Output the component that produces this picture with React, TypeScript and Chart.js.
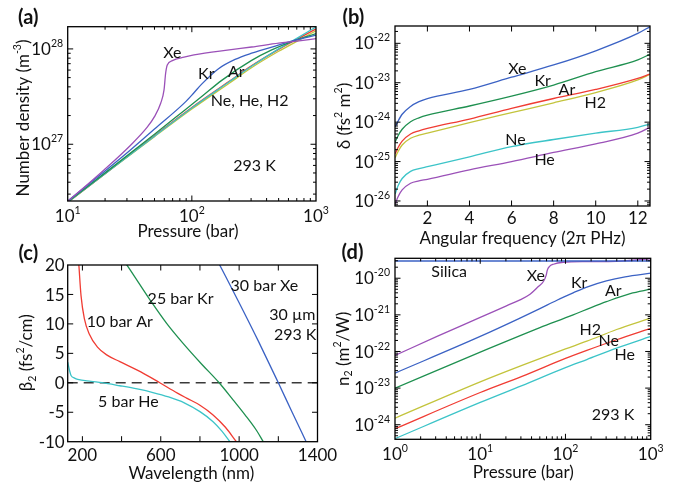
import React, { useEffect, useRef } from 'react';
import { Chart, registerables } from 'chart.js';

Chart.register(...registerables);

// ---------------- Colours ----------------
const PURPLE = '#9b51b8';
const BLUE = '#3b62c4';
const GREEN = '#1f9050';
const RED = '#f03c33';
const YELLOW = '#c3c43c';
const CYAN = '#3cc4c8';

// ---------------- Panel (a): number density vs pressure ----------------
const aXePressure = [10, 19.6, 32.1, 43.7, 50, 56.1, 59.7, 61.5, 63.4, 69.7, 86.5, 104, 200, 303, 500, 678, 1000];
const aXeDensity = [2.51e26, 5.37e26, 9.77e26, 1.51e27, 1.95e27, 2.69e27, 3.72e27, 5.56e27, 6.79e27, 7.53e27, 8.18e27, 8.65e27, 9.77e27, 1.047e28, 1.148e28, 1.2e28, 1.28e28];
const aKrPressure = [10, 20, 32, 50, 88, 104, 120, 163, 223, 303, 497, 678, 1000];
const aKrDensity = [2.54e26, 5.25e26, 8.71e26, 1.445e27, 2.75e27, 3.47e27, 4.27e27, 6.17e27, 7.76e27, 9.02e27, 1.096e28, 1.233e28, 1.393e28];
const aArPressure = [10, 20, 50, 88, 120, 174, 303, 440, 678, 1000];
const aArDensity = [2.49e26, 5.01e26, 1.274e27, 2.29e27, 3.16e27, 4.68e27, 7.59e27, 9.77e27, 1.23e28, 1.445e28];
const aLightPressure = [10, 20, 50, 100, 200, 300, 500, 700, 1000];
const aHeDensity = [2.46e26, 4.9e26, 1.216e27, 2.4e27, 4.52e27, 6.53e27, 1.0e28, 1.29e28, 1.7e28];
const aNeDensity = [2.47e26, 4.92e26, 1.23e27, 2.43e27, 4.57e27, 6.61e27, 9.89e27, 1.26e28, 1.62e28];
const aH2Density = [2.45e26, 4.9e26, 1.2e27, 2.34e27, 4.37e27, 6.31e27, 9.44e27, 1.2e28, 1.55e28];
const aXTicks = [10, 100, 1000];
const aXTickLabels = ['10¹', '10²', '10³'];
const aYTicks = [1e27, 1e28];
const aYTickLabels = ['10²⁷', '10²⁸'];

// ---------------- Panel (b): delta vs angular frequency ----------------
const bFreq = [0.47, 0.6, 0.8, 1.2, 1.6, 2, 4, 6, 8, 10, 12, 12.57];
const bXe = [7.59e-25, 1.047e-24, 1.585e-24, 2.51e-24, 3.31e-24, 3.98e-24, 6.76e-24, 1.38e-23, 2.82e-23, 6.46e-23, 1.78e-22, 2.63e-22];
const bKr = [3.16e-25, 4.47e-25, 6.61e-25, 1.023e-24, 1.29e-24, 1.51e-24, 2.57e-24, 4.57e-24, 8.71e-24, 1.905e-23, 3.8e-23, 5.25e-23];
const bAr = [1.585e-25, 2.24e-25, 3.31e-25, 5.01e-25, 6.03e-25, 6.92e-25, 1.2e-24, 2.24e-24, 3.98e-24, 6.76e-24, 1.29e-23, 1.66e-23];
const bH2 = [1.26e-25, 1.78e-25, 2.63e-25, 3.89e-25, 4.68e-25, 5.25e-25, 9.77e-25, 1.74e-24, 3.09e-24, 5.62e-24, 1.175e-23, 1.62e-23];
const bNe = [1.51e-26, 2.4e-26, 3.72e-26, 5.62e-26, 6.61e-26, 7.41e-26, 1.32e-25, 2.4e-25, 3.63e-25, 5.25e-25, 7.41e-25, 8.91e-25];
const bHe = [8.32e-27, 1.26e-26, 1.905e-26, 2.82e-26, 3.24e-26, 3.55e-26, 6.17e-26, 1.0e-25, 1.7e-25, 2.82e-25, 5.25e-25, 7.41e-25];
const bXTicks = [2, 4, 6, 8, 10, 12];
const bXTickLabels = ['2', '4', '6', '8', '10', '12'];
const bYTicks = [1e-26, 1e-25, 1e-24, 1e-23, 1e-22];
const bYTickLabels = ['10⁻²⁶', '10⁻²⁵', '10⁻²⁴', '10⁻²³', '10⁻²²'];

// ---------------- Panel (c): beta2 vs wavelength ----------------
const cArWl = [182, 193, 210, 235, 277, 328, 391, 498, 595, 685, 732, 800, 867, 930, 986];
const cArB2 = [20, 14.8, 10.9, 8.3, 6.06, 4.65, 3.6, 1.85, 0, -1.75, -2.6, -3.8, -5.45, -7.55, -10];
const cKrWl = [415, 485, 553, 630, 714, 808, 898, 969, 1029, 1089, 1123];
const cKrB2 = [20.6, 17.1, 13.7, 10.1, 6.7, 3.2, 0, -2.9, -5.4, -8.1, -10];
const cXeWl = [893, 1000, 1100, 1200, 1270, 1342];
const cXeB2 = [20.5, 13.6, 6.95, 0, -4.95, -10];
const cHeWl = [125, 135, 142, 160, 176, 244, 300, 391, 480, 560, 640, 720, 800, 867, 912, 953];
const cHeB2 = [3.5, 2.0, 1.25, 0.8, 0.57, 0.24, 0.02, -0.5, -1.05, -1.65, -2.4, -3.4, -4.9, -6.6, -8.2, -10];
const cZeroWl = [125, 1400];
const cZeroB2 = [0, 0];
const cXTicks = [200, 400, 600, 800, 1000, 1200, 1400];
const cXTickLabels = ['200', '', '600', '', '1000', '', '1400'];
const cYTicks = [-10, -5, 0, 5, 10, 15, 20];
const cYTickLabels = ['-10', '-5', '0', '5', '10', '15', '20'];

// ---------------- Panel (d): n2 vs pressure ----------------
const dXeP = [1, 3.16, 10, 20, 29.3, 38.4, 48.1, 55.1, 59.2, 61.4, 64.7, 72.1, 94.4, 177, 398, 562, 1000];
const dXeN2 = [7.76e-23, 2.63e-22, 8.51e-22, 1.74e-21, 2.57e-21, 3.66e-21, 5.93e-21, 8.13e-21, 1.18e-20, 1.69e-20, 2.08e-20, 2.41e-20, 2.73e-20, 2.84e-20, 2.9e-20, 3.05e-20, 3.4e-20];
const dSilicaP = [1, 1000];
const dSilicaN2 = [2.95e-20, 2.95e-20];
const dKrP = [1, 10, 29.3, 50.1, 79.4, 123, 178, 302, 501, 1000];
const dKrN2 = [2.57e-23, 2.57e-22, 8.13e-22, 1.48e-21, 2.51e-21, 3.98e-21, 5.75e-21, 8.51e-21, 1.096e-20, 1.37e-20];
const dArP = [1, 10, 30.9, 50.1, 123, 200, 302, 575, 1000];
const dArN2 = [1.0e-23, 9.55e-23, 2.85e-22, 4.47e-22, 1.0e-21, 1.585e-21, 2.29e-21, 3.8e-21, 5.01e-21];
const dLightP = [1, 10, 30.9, 100, 178, 398, 1000];
const dH2N2 = [1.51e-24, 1.48e-23, 4.17e-23, 1.17e-22, 1.905e-22, 3.98e-22, 8.13e-22];
const dNeN2 = [7.76e-25, 7.59e-24, 2.09e-23, 6.46e-23, 1.07e-22, 2.09e-22, 4.27e-22];
const dHeN2 = [4.17e-25, 4.07e-24, 1.175e-23, 3.63e-23, 6.03e-23, 1.23e-22, 2.57e-22];
const dXTicks = [1, 10, 100, 1000];
const dXTickLabels = ['10⁰', '10¹', '10²', '10³'];
const dYTicks = [1e-24, 1e-23, 1e-22, 1e-21, 1e-20];
const dYTickLabels = ['10⁻²⁴', '10⁻²³', '10⁻²²', '10⁻²¹', '10⁻²⁰'];

// ---------------- Text drawing helpers ----------------
const FONT_FAMILY = 'Lato, "Open Sans", "DejaVu Sans", sans-serif';
const SUP = '⁰¹²³⁴⁵⁶⁷⁸⁹⁻';
const SUB = '₀₁₂₃₄₅₆₇₈₉';
const PLAIN = '0123456789-';

function splitRich(text: string) {
  const segs: { kind: number; text: string }[] = [];
  for (const ch of Array.from(text)) {
    let kind = 0;
    let c = ch;
    const si = SUP.indexOf(ch);
    const bi = SUB.indexOf(ch);
    if (si >= 0) { kind = 1; c = PLAIN[si]; }
    else if (bi >= 0) { kind = -1; c = PLAIN[bi]; }
    const last = segs[segs.length - 1];
    if (last && last.kind === kind) last.text += c;
    else segs.push({ kind, text: c });
  }
  return segs;
}

function drawRich(ctx: CanvasRenderingContext2D, text: string, x: number, y: number, size: number,
  align: 'left' | 'center' | 'right', rotate = 0, bold = false) {
  const segs = splitRich(text);
  const small = size * 0.62;
  const w = bold ? 'bold ' : '';
  const widths = segs.map((s) => {
    ctx.font = `${w}${s.kind ? small : size}px ${FONT_FAMILY}`;
    return ctx.measureText(s.text).width;
  });
  const total = widths.reduce((p, q) => p + q, 0);
  ctx.save();
  ctx.translate(x, y);
  if (rotate) ctx.rotate(rotate);
  ctx.textAlign = 'left';
  ctx.textBaseline = 'alphabetic';
  ctx.fillStyle = '#111';
  let cx = align === 'left' ? 0 : align === 'right' ? -total : -total / 2;
  const base = size * 0.36;
  segs.forEach((s, i) => {
    ctx.font = `${w}${s.kind ? small : size}px ${FONT_FAMILY}`;
    const dy = s.kind === 1 ? -size * 0.47 : s.kind === -1 ? size * 0.22 : 0;
    ctx.fillText(s.text, cx, base + dy);
    cx += widths[i];
  });
  ctx.restore();
}

function logMinorTicks(min: number, max: number) {
  const out: number[] = [];
  for (let e = Math.floor(Math.log10(min)); e <= Math.ceil(Math.log10(max)); e++) {
    for (let m = 2; m <= 9; m++) {
      const v = m * Math.pow(10, e);
      if (v > min && v < max) out.push(v);
    }
  }
  return out;
}

type Note = { text: string; x: number; y: number };
type Panel = {
  left: number; top: number; W: number; H: number;
  plot: { left: number; top: number; right: number; bottom: number };
  xScale: any; yScale: any;
  datasets: any[];
  xTicks: number[]; xLabels: string[]; xMinor: number[];
  yTicks: number[]; yLabels: string[]; yMinor: number[];
  xLabelOffset: number; yLabelGap: number;
  xTitle: Note; yTitle: Note; panel: Note;
  notes: Note[];
};

function line(label: string, xs: number[], ys: number[], color: string, extra: any = {}) {
  return {
    label,
    data: xs.map((x, i) => ({ x, y: ys[i] })),
    borderColor: color,
    backgroundColor: color,
    showLine: true,
    pointRadius: 0,
    borderWidth: 1.3,
    cubicInterpolationMode: 'monotone',
    fill: false,
    ...extra,
  };
}

const PANELS: Panel[] = [
  {
    left: 0, top: 0, W: 340, H: 250,
    plot: { left: 67.7, top: 26.7, right: 316, bottom: 201 },
    xScale: { type: 'logarithmic', min: 10, max: 1000 },
    yScale: { type: 'logarithmic', min: 2.54e26, max: 1.71e28 },
    datasets: [
      line('Xe', aXePressure, aXeDensity, PURPLE),
      line('Kr', aKrPressure, aKrDensity, BLUE),
      line('Ar', aArPressure, aArDensity, GREEN),
      line('He', aLightPressure, aHeDensity, CYAN),
      line('Ne', aLightPressure, aNeDensity, RED),
      line('H2', aLightPressure, aH2Density, YELLOW),
    ],
    xTicks: aXTicks, xLabels: aXTickLabels, xMinor: logMinorTicks(10, 1000),
    yTicks: aYTicks, yLabels: aYTickLabels, yMinor: logMinorTicks(2.54e26, 1.71e28),
    xLabelOffset: 14.5, yLabelGap: 4.5,
    xTitle: { text: 'Pressure (bar)', x: 188, y: 230.5 },
    yTitle: { text: 'Number density (m⁻³)', x: 22.5, y: 118 },
    panel: { text: '(a)', x: 28.3, y: 16.5 },
    notes: [
      { text: 'Xe', x: 69.8, y: 9.2e27 },
      { text: 'Kr', x: 130.6, y: 5.62e27 },
      { text: 'Ar', x: 228, y: 5.85e27 },
      { text: 'Ne, He, H2', x: 292, y: 2.88e27 },
      { text: '293 K', x: 320, y: 6.0e26 },
    ],
  },
  {
    left: 330, top: 0, W: 348, H: 252,
    plot: { left: 65, top: 26, right: 320, bottom: 206 },
    xScale: { type: 'linear', min: 0.46, max: 12.58 },
    yScale: { type: 'logarithmic', min: 7.46e-27, max: 2.75e-22 },
    datasets: [
      line('Xe', bFreq, bXe, BLUE),
      line('Kr', bFreq, bKr, GREEN),
      line('Ar', bFreq, bAr, RED),
      line('H2', bFreq, bH2, YELLOW),
      line('Ne', bFreq, bNe, CYAN),
      line('He', bFreq, bHe, PURPLE),
    ],
    xTicks: bXTicks, xLabels: bXTickLabels, xMinor: [],
    yTicks: bYTicks, yLabels: bYTickLabels, yMinor: logMinorTicks(7.46e-27, 2.75e-22),
    xLabelOffset: 12, yLabelGap: 5,
    xTitle: { text: 'Angular frequency (2π PHz)', x: 192.5, y: 237.7 },
    yTitle: { text: 'δ (fs² m²)', x: 13.5, y: 116 },
    panel: { text: '(b)', x: 23.3, y: 16.5 },
    notes: [
      { text: 'Xe', x: 6.275, y: 2.4e-23 },
      { text: 'Kr', x: 7.48, y: 1.17e-23 },
      { text: 'Ar', x: 8.63, y: 7.0e-24 },
      { text: 'H2', x: 9.975, y: 3.16e-24 },
      { text: 'Ne', x: 6.185, y: 3.6e-25 },
      { text: 'He', x: 7.57, y: 1.17e-25 },
    ],
  },
  {
    left: 0, top: 240, W: 340, H: 249,
    plot: { left: 67.7, top: 25, right: 317.5, bottom: 201.7 },
    xScale: { type: 'linear', min: 125, max: 1400 },
    yScale: { type: 'linear', min: -10, max: 20 },
    datasets: [
      line('10 bar Ar', cArWl, cArB2, RED),
      line('25 bar Kr', cKrWl, cKrB2, GREEN),
      line('30 bar Xe', cXeWl, cXeB2, BLUE),
      line('5 bar He', cHeWl, cHeB2, CYAN),
      line('zero', cZeroWl, cZeroB2, '#3a3a3a', { borderDash: [10, 6], borderWidth: 1.4, cubicInterpolationMode: 'default' }),
    ],
    xTicks: cXTicks, xLabels: cXTickLabels, xMinor: [],
    yTicks: cYTicks, yLabels: cYTickLabels, yMinor: [],
    xLabelOffset: 13.3, yLabelGap: 3,
    xTitle: { text: 'Wavelength (nm)', x: 191.3, y: 233 },
    yTitle: { text: 'β₂ (fs²/cm)', x: 26.3, y: 112.7 },
    panel: { text: '(c)', x: 28.3, y: 12.7 },
    notes: [
      { text: '25 bar Kr', x: 701, y: 14.3 },
      { text: '10 bar Ar', x: 391, y: 10.4 },
      { text: '30 bar Xe', x: 1129, y: 16.6 },
      { text: '30 µm', x: 1272, y: 11.7 },
      { text: '293 K', x: 1286, y: 8.3 },
      { text: '5 bar He', x: 435, y: -3.2 },
    ],
  },
  {
    left: 330, top: 240, W: 348, H: 249,
    plot: { left: 65, top: 18.3, right: 320.7, bottom: 199.3 },
    xScale: { type: 'logarithmic', min: 1, max: 1000 },
    yScale: { type: 'logarithmic', min: 4.07e-25, max: 3.5e-20 },
    datasets: [
      line('Silica', dSilicaP, dSilicaN2, BLUE, { cubicInterpolationMode: 'default' }),
      line('Xe', dXeP, dXeN2, PURPLE),
      line('Kr', dKrP, dKrN2, BLUE),
      line('Ar', dArP, dArN2, GREEN),
      line('H2', dLightP, dH2N2, YELLOW),
      line('Ne', dLightP, dNeN2, RED),
      line('He', dLightP, dHeN2, CYAN),
    ],
    xTicks: dXTicks, xLabels: dXTickLabels, xMinor: logMinorTicks(1, 1000),
    yTicks: dYTicks, yLabels: dYTickLabels, yMinor: logMinorTicks(4.07e-25, 3.5e-20),
    xLabelOffset: 15, yLabelGap: 5,
    xTitle: { text: 'Pressure (bar)', x: 193.3, y: 232 },
    yTitle: { text: 'n₂ (m²/W)', x: 12.5, y: 108.8 },
    panel: { text: '(d)', x: 22.5, y: 11.5 },
    notes: [
      { text: 'Silica', x: 4.32, y: 1.6e-20 },
      { text: 'Xe', x: 44.8, y: 1.23e-20 },
      { text: 'Kr', x: 145, y: 7.83e-21 },
      { text: 'Ar', x: 364.6, y: 4.57e-21 },
      { text: 'H2', x: 195.8, y: 4.09e-22 },
      { text: 'Ne', x: 322.6, y: 2.05e-22 },
      { text: 'He', x: 495.6, y: 8.5e-23 },
      { text: '293 K', x: 361, y: 1.97e-24 },
    ],
  },
];

function makeDecoPlugin(p: Panel) {
  return {
    id: 'deco',
    afterDraw(chart: any) {
      const ctx: CanvasRenderingContext2D = chart.ctx;
      const a = chart.chartArea;
      const xs = chart.scales.x;
      const ys = chart.scales.y;
      ctx.save();
      ctx.strokeStyle = '#000';
      ctx.lineWidth = 1;
      const tick = (isX: boolean, v: number, len: number) => {
        if (isX) {
          const px = xs.getPixelForValue(v);
          if (px < a.left + 0.5 || px > a.right - 0.5) return;
          ctx.beginPath();
          ctx.moveTo(px, a.bottom); ctx.lineTo(px, a.bottom - len);
          ctx.moveTo(px, a.top); ctx.lineTo(px, a.top + len);
          ctx.stroke();
        } else {
          const py = ys.getPixelForValue(v);
          if (py < a.top + 0.5 || py > a.bottom - 0.5) return;
          ctx.beginPath();
          ctx.moveTo(a.left, py); ctx.lineTo(a.left + len, py);
          ctx.moveTo(a.right, py); ctx.lineTo(a.right - len, py);
          ctx.stroke();
        }
      };
      p.xTicks.forEach((v) => tick(true, v, 5.5));
      p.xMinor.forEach((v) => tick(true, v, 3));
      p.yTicks.forEach((v) => tick(false, v, 5.5));
      p.yMinor.forEach((v) => tick(false, v, 3));
      ctx.lineWidth = 1.3;
      ctx.strokeRect(a.left, a.top, a.right - a.left, a.bottom - a.top);
      ctx.restore();

      p.xTicks.forEach((v, i) => {
        const lab = p.xLabels[i];
        if (lab) drawRich(ctx, lab, xs.getPixelForValue(v), a.bottom + p.xLabelOffset, 17, 'center');
      });
      p.yTicks.forEach((v, i) => {
        const lab = p.yLabels[i];
        if (lab) drawRich(ctx, lab, a.left - p.yLabelGap, ys.getPixelForValue(v), 17, 'right');
      });
      drawRich(ctx, p.xTitle.text, p.xTitle.x, p.xTitle.y, 17, 'center');
      drawRich(ctx, p.yTitle.text, p.yTitle.x, p.yTitle.y, 17, 'center', -Math.PI / 2);
      drawRich(ctx, p.panel.text, p.panel.x, p.panel.y, 20, 'center', 0, true);
      p.notes.forEach((n) => drawRich(ctx, n.text, xs.getPixelForValue(n.x), ys.getPixelForValue(n.y), 16, 'center'));
    },
  };
}

function makeChart(canvas: HTMLCanvasElement, p: Panel) {
  const hidden = { grid: { display: false }, border: { display: false }, title: { display: false } };
  return new Chart(canvas, {
    type: 'scatter',
    data: { datasets: p.datasets },
    options: {
      responsive: false,
      animation: false,
      devicePixelRatio: 1,
      layout: { padding: { left: 0, top: p.plot.top, right: p.W - p.plot.right, bottom: 0 } },
      plugins: { legend: { display: false }, tooltip: { enabled: false } },
      scales: {
        x: {
          ...p.xScale,
          ...hidden,
          afterFit: (s: any) => { s.height = p.H - p.plot.bottom; },
          afterBuildTicks: (s: any) => { s.ticks = p.xTicks.map((v) => ({ value: v })); },
          ticks: { color: 'rgba(0,0,0,0)', autoSkip: false, maxRotation: 0, callback: (_v: any, i: number) => p.xLabels[i] ?? '' },
        },
        y: {
          ...p.yScale,
          ...hidden,
          afterFit: (s: any) => { s.width = p.plot.left; },
          afterBuildTicks: (s: any) => { s.ticks = p.yTicks.map((v) => ({ value: v })); },
          ticks: { color: 'rgba(0,0,0,0)', autoSkip: false, callback: (_v: any, i: number) => p.yLabels[i] ?? '' },
        },
      },
    } as any,
    plugins: [makeDecoPlugin(p)],
  });
}

export default function App() {
  const r0 = useRef<HTMLCanvasElement>(null);
  const r1 = useRef<HTMLCanvasElement>(null);
  const r2 = useRef<HTMLCanvasElement>(null);
  const r3 = useRef<HTMLCanvasElement>(null);
  const refs = [r0, r1, r2, r3];

  useEffect(() => {
    const charts = PANELS.map((p, i) => makeChart(refs[i].current as HTMLCanvasElement, p));
    return () => charts.forEach((c) => c.destroy());
  }, []);

  return (
    <div style={{ position: 'absolute', left: 0, top: 0, width: 678, height: 489, background: '#fff', overflow: 'hidden' }}>
      {PANELS.map((p, i) => (
        <canvas
          key={i}
          ref={refs[i]}
          width={p.W}
          height={p.H}
          style={{ position: 'absolute', left: p.left, top: p.top, width: p.W, height: p.H }}
        />
      ))}
    </div>
  );
}
